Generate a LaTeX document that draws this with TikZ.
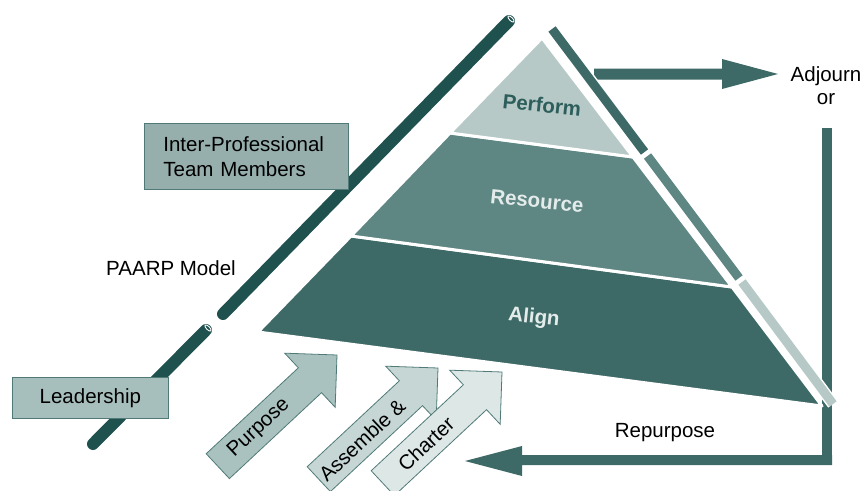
\documentclass[tikz,border=0pt]{standalone}
\usepackage{fontspec}
\setmainfont{Liberation Sans}
\definecolor{pipeC}{HTML}{1F514E}
\definecolor{darkC}{HTML}{3D6966}
\definecolor{midC}{HTML}{5E8683}
\definecolor{lightC}{HTML}{B6C9C7}
\definecolor{boxA}{HTML}{96AFAD}
\definecolor{boxB}{HTML}{A7BFBC}
\definecolor{arrA}{HTML}{A9C2BF}
\definecolor{arrB}{HTML}{C5D6D4}
\definecolor{arrC}{HTML}{DDE7E6}
\definecolor{outC}{HTML}{4F7A77}
\definecolor{perfT}{HTML}{2E5E5B}
\definecolor{paleT}{HTML}{E3ECEB}
\begin{document}
\begin{tikzpicture}[x=1pt,y=-1pt,font=\fontsize{20.5}{25}\selectfont]
\tikzset{
  pipe/.style={draw=pipeC,line width=12pt,line cap=round},
  tubeend/.style={draw=white,line width=0.9pt},
  lbox/.style={draw=outC,line width=0.8pt,inner sep=0pt},
  layer/.style={draw=white,line width=3pt,line join=round},
  lbl/.style={font=\fontsize{20.5}{25}\selectfont\bfseries,inner sep=0pt},
  sidebar/.style={line width=9pt},
  halo/.style={draw=white,line width=12pt},
  plain/.style={inner sep=0pt},
  blockarr/.pic={\draw[pic actions] (0,0) -- (-37,-37) -- (-37,-17) -- (-163,-17) -- (-163,17) -- (-37,17) -- (-37,37) -- cycle;}
}
\useasboundingbox (0,0) rectangle (864,490);
% pipes
\draw[pipe] (509,21) -- (223,314);
\draw[pipe] (206,330) -- (93,444);
\draw[tubeend,rotate around={-45:(511,19)}] (511,19) ellipse [x radius=4,y radius=1.7];
\draw[tubeend,rotate around={-45:(208,328)}] (208,328) ellipse [x radius=4,y radius=1.7];
% boxes
\node[lbox,fill=boxA,anchor=north west,text width=166pt,inner xsep=19pt,align=left,minimum height=66pt] (ipt) at (144,123) {Inter-Professional\\Team Members};
\node[lbox,fill=boxB,anchor=north west,minimum width=156pt,minimum height=41pt] (lead) at (12,377) {Leadership};
\node[plain] (paarp) at (171,268) {PAARP Model};
% right frame and repurpose arrow
\fill[darkC] (822,128) rectangle (832,465);
\fill[darkC] (832,465) -- (522,465) -- (522,476) -- (465,461) -- (522,446) -- (522,455) -- (832,455) -- cycle;
\node[plain] (rep) at (665,433) {Repurpose};
% adjourn arrow
\fill[darkC] (594,68.5) -- (722,68.5) -- (722,59) -- (778,74) -- (722,89) -- (722,79.5) -- (594,79.5) -- cycle;
\node[plain,align=center,font=\fontsize{20.5}{23}\selectfont] (adj) at (826,86) {Adjourn\\or};
% side bars
\draw[halo] (552,29) -- (644.5,152);
\draw[halo] (647.5,156) -- (739,278);
\draw[halo] (742,282) -- (833,404);
\draw[sidebar,darkC] (552,29) -- (644.5,152);
\draw[sidebar,midC] (647.5,156) -- (739,278);
\draw[sidebar,lightC] (742,282) -- (833,404);
% pyramid
\filldraw[layer,fill=darkC] (351,236) -- (732,287) -- (822,406) -- (258,332) -- cycle;
\filldraw[layer,fill=midC] (450,133) -- (633,157) -- (732,287) -- (351,236) -- cycle;
\filldraw[layer,fill=lightC] (542,38) -- (633,157) -- (450,133) -- cycle;
\node[lbl,text=perfT,rotate=-6] (perf) at (542,105) {Perform};
\node[lbl,text=paleT,rotate=-6] (res) at (537,201) {Resource};
\node[lbl,text=paleT,rotate=-6] (ali) at (534,318) {Align};
% block arrows
\pic[draw=outC,line width=0.8pt,fill=arrA,rotate=43] at (337,355) {blockarr};
\pic[draw=outC,line width=0.8pt,fill=arrB,rotate=43] at (438,368) {blockarr};
\pic[draw=outC,line width=0.8pt,fill=arrC,rotate=43] at (502,372) {blockarr};
\node[plain,rotate=43] (pur) at (259,428) {Purpose};
\node[plain,rotate=43] (ass) at (362,440) {Assemble \&};
\node[plain,rotate=43] (cha) at (426,444) {Charter};
\end{tikzpicture}
\end{document}
